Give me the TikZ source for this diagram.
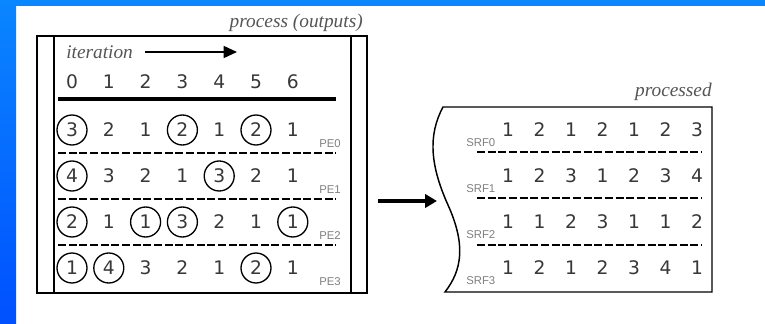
\documentclass[tikz,border=0pt]{standalone}
\usepackage{fontspec}
\setmainfont{DejaVu Sans}
\newfontfamily\labelserif{Liberation Serif}
\newfontfamily\tagsans{Liberation Sans}
\usetikzlibrary{arrows.meta}
\definecolor{bandtop}{HTML}{0A86FF}
\definecolor{bandbot}{HTML}{0050FF}
\definecolor{digitgray}{HTML}{383838}
\definecolor{captiongray}{HTML}{555555}
\definecolor{taggray}{HTML}{808080}
\tikzset{
  frame/.style={draw=black, line width=1.1pt},
  digit/.style={font=\fontsize{14}{14}\selectfont, text=digitgray, inner sep=0pt, anchor=center},
  ring0/.style={},
  ring1/.style={draw=black, circle, line width=1pt, minimum size=22.5pt},
  caption/.style={font=\labelserif\itshape\fontsize{14.5}{14.5}\selectfont, text=captiongray, inner sep=0pt},
  tag/.style={font=\tagsans\fontsize{8.5}{8.5}\selectfont, text=taggray, inner sep=0pt},
  separator/.style={line width=1pt, dash pattern=on 6pt off 2pt},
  flowarrow/.style={line width=2.4pt, -{Triangle[length=9pt,width=10pt]}},
  iterarrow/.style={line width=1.1pt, -{Triangle[length=10pt,width=9pt]}},
}
\begin{document}
\begin{tikzpicture}[x=0.75pt,y=-0.75pt]
\useasboundingbox (0,0) rectangle (765,324);
\fill[white] (0,0) rectangle (765,324);
% slide bands
\shade[top color=bandtop, bottom color=bandbot] (0,0) rectangle (16,324);
\fill[bandtop] (0,0) rectangle (765,6);

% ---- left panel: per-PE outputs over iterations ----
\node[caption, anchor=east] (proccap) at (363,23) {process (outputs)};
\draw[frame] (37,36) rectangle (367,293);
\draw[frame] (54,36) -- (54,293);
\draw[frame] (351,36) -- (351,293);

\node[caption, anchor=west] (itercap) at (66,52) {iteration};
\coordinate (iterend) at (237,52);
\draw[iterarrow] (itercap.east) ++(9pt,0) coordinate (iterstart) -- (iterend);

\foreach \i in {0,...,6} {
  \node[digit] (head\i) at ({72+36.8*\i},82) {\i};
}
\draw[line width=2.3pt] (58,99) -- (336,99);

\foreach \r/\yy/\vals in {
  0/130/{3/1,2/0,1/0,2/1,1/0,2/1,1/0},
  1/176/{4/1,3/0,2/0,1/0,3/1,2/0,1/0},
  2/222/{2/1,1/0,1/1,3/1,2/0,1/0,1/1},
  3/268/{1/1,4/1,3/0,2/0,1/0,2/1,1/0}} {
  \foreach \v/\m [count=\c from 0] in \vals {
    \node[digit, ring\m] (pe\r c\c) at ({72+36.8*\c},\yy) {\v};
  }
  \node[tag, anchor=east] (pe\r tag) at (341,\yy+14) {PE\r};
}
\foreach \yy in {153,199,245} {
  \draw[separator] (58,\yy) -- (336,\yy);
}

% ---- transfer arrow ----
\coordinate (xferstart) at (378,201);
\coordinate (xferend) at (437,201);
\draw[flowarrow] (xferstart) -- (xferend);

% ---- right panel: processed stream records ----
\node[caption, anchor=east] (donecap) at (712,92) {processed};
\draw[frame] (712,107) -- (443,107)
  .. controls (428,135) and (430,165) .. (448,205)
  .. controls (466,245) and (462,270) .. (445,292)
  -- (712,292) -- cycle;

\foreach \r/\yy/\vals in {
  0/130/{1,2,1,2,1,2,3},
  1/176/{1,2,3,1,2,3,4},
  2/222/{1,1,2,3,1,1,2},
  3/268/{1,2,1,2,3,4,1}} {
  \foreach \v [count=\c from 0] in \vals {
    \node[digit] (srf\r c\c) at ({508+31.5*\c},\yy) {\v};
  }
  \node[tag, anchor=west] (srf\r tag) at (466,\yy+13) {SRF\r};
}
\foreach \yy in {152,198,245} {
  \draw[separator] (477,\yy) -- (702,\yy);
}
\end{tikzpicture}
\end{document}
